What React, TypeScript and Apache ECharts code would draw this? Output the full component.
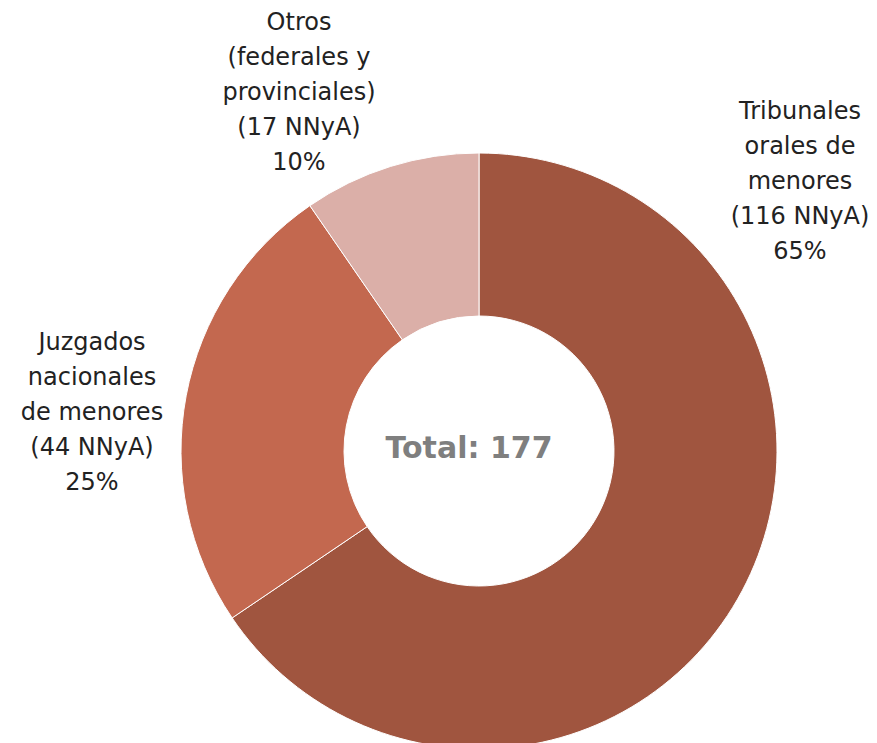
import React, { useEffect, useRef } from "react";
import * as echarts from "echarts";

const categories = ["Tribunales\norales de\nmenores", "Juzgados\nnacionales\nde menores", "Otros\n(federales y\nprovinciales)"];
const values = [116, 44, 17];
const percentLabels = ["65%", "25%", "10%"];
const colors = ["#A0553F", "#C3684F", "#DBAFA8"];
const totalLabel = "Total: 177";
const labelPositions = [[800, 181], [92, 412], [299, 92]];

export default function App() {
  const ref = useRef<HTMLDivElement>(null);
  useEffect(() => {
    const chart = echarts.init(ref.current!, null, { renderer: "svg" });
    chart.setOption({
      animation: false,
      backgroundColor: "#ffffff",
      series: [
        {
          type: "pie",
          center: [479, 451],
          radius: [135, 298],
          startAngle: 90,
          clockwise: true,
          data: categories.map((name, i) => ({
            name,
            value: values[i],
            itemStyle: { color: colors[i] },
          })),
          itemStyle: { borderColor: "#ffffff", borderWidth: 1 },
          label: {
            show: true,
            position: "outside",
            formatter: (p: any) => `${p.name}\n(${p.value} NNyA)\n${percentLabels[p.dataIndex]}`,
            fontFamily: "DejaVu Sans",
            fontSize: 24,
            lineHeight: 35,
            color: "#222222",
            align: "center",
            overflow: "none",
            width: 300,
          },
          labelLine: { show: false },
          labelLayout: (params: any) => ({
            x: labelPositions[params.dataIndex][0],
            y: labelPositions[params.dataIndex][1],
            align: "center",
            verticalAlign: "middle",
            hideOverlap: false,
            moveOverlap: null,
          }),
          emphasis: { disabled: true },
        },
      ],
      graphic: [
        {
          type: "text",
          x: 469,
          y: 447,
          style: {
            text: totalLabel,
            fill: "#7F7F7F",
            font: "bold 30px 'DejaVu Sans'",
            textAlign: "center",
            textVerticalAlign: "middle",
          },
        },
      ],
    });
    return () => chart.dispose();
  }, []);
  return <div ref={ref} style={{ position: "fixed", left: 0, top: 0, width: 877, height: 743 }} />;
}
